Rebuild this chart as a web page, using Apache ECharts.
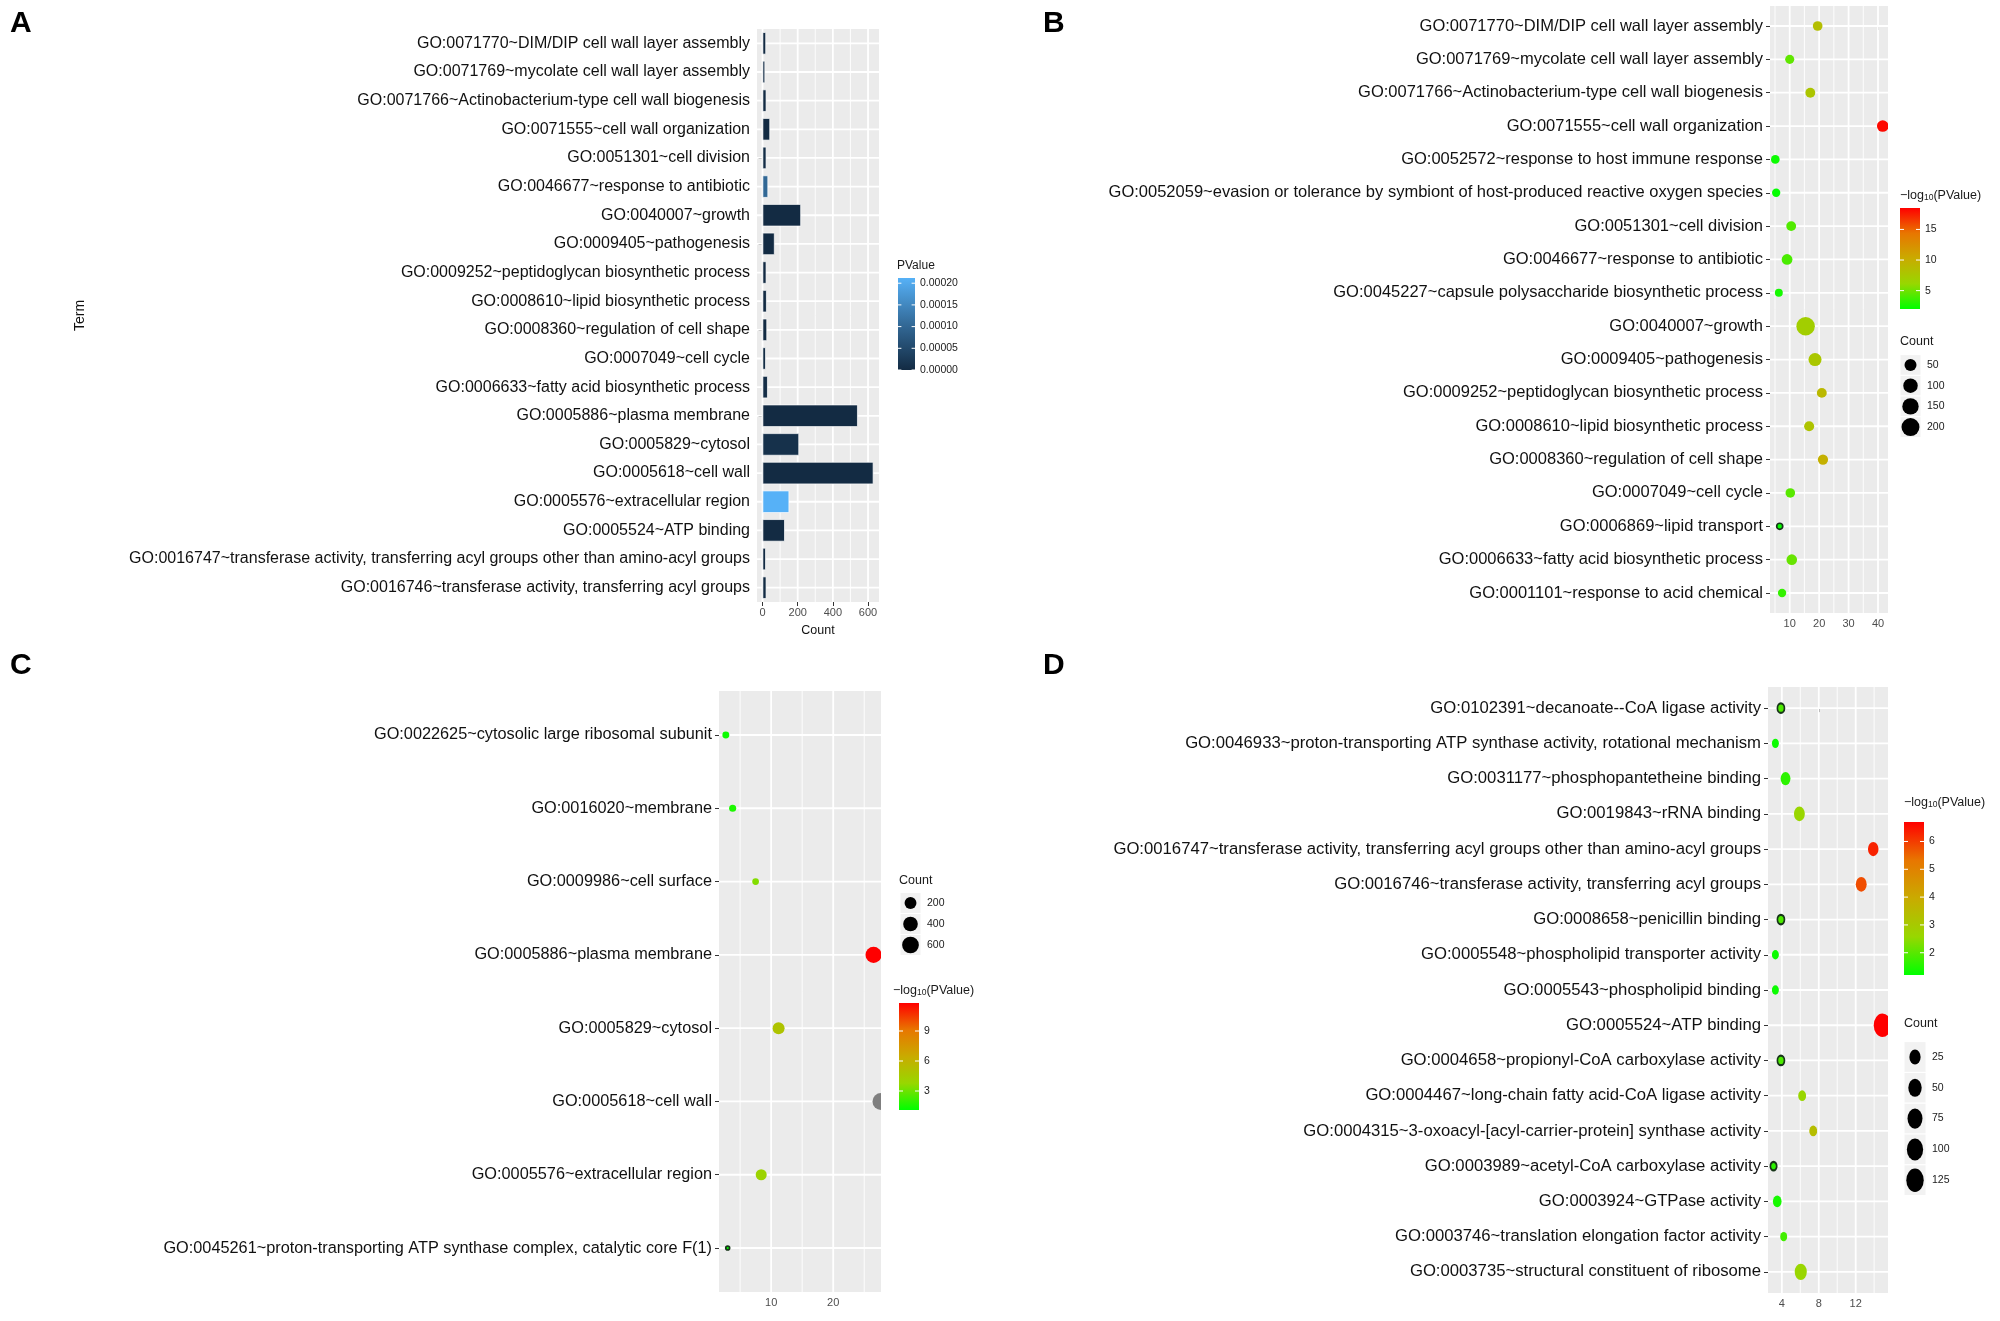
<!DOCTYPE html>
<html><head><meta charset="utf-8">
<script src="https://cdn.jsdelivr.net/npm/echarts@6/dist/echarts.min.js"></script>
<style>html,body{margin:0;padding:0;background:#fff}#c{width:2000px;height:1321px}</style>
</head><body><div id="c"></div>
<script>
// ---------------- DATA ----------------
// Panel A (bar): Count by GO term, fill = PValue
const termsA = [
 "GO:0071770~DIM/DIP cell wall layer assembly",
 "GO:0071769~mycolate cell wall layer assembly",
 "GO:0071766~Actinobacterium-type cell wall biogenesis",
 "GO:0071555~cell wall organization",
 "GO:0051301~cell division",
 "GO:0046677~response to antibiotic",
 "GO:0040007~growth",
 "GO:0009405~pathogenesis",
 "GO:0009252~peptidoglycan biosynthetic process",
 "GO:0008610~lipid biosynthetic process",
 "GO:0008360~regulation of cell shape",
 "GO:0007049~cell cycle",
 "GO:0006633~fatty acid biosynthetic process",
 "GO:0005886~plasma membrane",
 "GO:0005829~cytosol",
 "GO:0005618~cell wall",
 "GO:0005576~extracellular region",
 "GO:0005524~ATP binding",
 "GO:0016747~transferase activity, transferring acyl groups other than amino-acyl groups",
 "GO:0016746~transferase activity, transferring acyl groups"
];
const countA = [20, 15, 22, 43, 22, 32, 219, 69, 22, 24, 26, 19, 30, 542, 208, 631, 152, 127, 19, 22];
const pvalA  = [1.2e-8, 2.0e-6, 3.1e-7, 2.5e-19, 3.4e-6, 1.02e-4, 4.1e-8, 1.6e-8, 6.0e-10, 8.5e-9, 4.4e-10, 2.9e-6, 5.2e-6, 1.1e-12, 1.05e-5, 2.0e-15, 2.12e-4, 2.3e-7, 4.5e-7, 1.6e-6];
const ticksAx = [0, 200, 400, 600];
const minorAx = [100, 300, 500];
const legendTicksA = [0, 0.00005, 0.0001, 0.00015, 0.0002];

// Panel B (dots)
const termsB = [
 "GO:0071770~DIM/DIP cell wall layer assembly",
 "GO:0071769~mycolate cell wall layer assembly",
 "GO:0071766~Actinobacterium-type cell wall biogenesis",
 "GO:0071555~cell wall organization",
 "GO:0052572~response to host immune response",
 "GO:0052059~evasion or tolerance by symbiont of host-produced reactive oxygen species",
 "GO:0051301~cell division",
 "GO:0046677~response to antibiotic",
 "GO:0045227~capsule polysaccharide biosynthetic process",
 "GO:0040007~growth",
 "GO:0009405~pathogenesis",
 "GO:0009252~peptidoglycan biosynthetic process",
 "GO:0008610~lipid biosynthetic process",
 "GO:0008360~regulation of cell shape",
 "GO:0007049~cell cycle",
 "GO:0006869~lipid transport",
 "GO:0006633~fatty acid biosynthetic process",
 "GO:0001101~response to acid chemical"
];
const xB     = [19.5, 10.0, 17.0, 41.6, 5.1, 5.4, 10.5, 9.1, 6.3, 15.4, 18.6, 20.9, 16.6, 21.3, 10.2, 6.6, 10.7, 7.4];
const countB = [20, 15, 22, 43, 12, 10, 22, 32, 8, 219, 69, 22, 24, 26, 19, 7, 30, 10];
const logpB  = [8.5, 4.6, 7.8, 18.2, 2.3, 2.1, 4.2, 4.0, 2.6, 7.0, 7.6, 9.0, 8.0, 9.8, 4.4, 2.2, 4.8, 3.4];
const ticksBx = [10, 20, 30, 40];
const minorBx = [5, 15, 25, 35];
const legendColorTicksB = [5, 10, 15];
const legendSizeB = [50, 100, 150, 200];

// Panel C (dots)
const termsC = [
 "GO:0022625~cytosolic large ribosomal subunit",
 "GO:0016020~membrane",
 "GO:0009986~cell surface",
 "GO:0005886~plasma membrane",
 "GO:0005829~cytosol",
 "GO:0005618~cell wall",
 "GO:0005576~extracellular region",
 "GO:0045261~proton-transporting ATP synthase complex, catalytic core F(1)"
];
const xC     = [2.7, 3.8, 7.5, 26.5, 11.2, 27.7, 8.4, 3.0];
const countC = [18, 20, 15, 542, 208, 631, 152, 8];
const logpC  = [1.3, 1.6, 3.4, 11.8, 5.0, 14.0, 4.0, 1.2];
const ticksCx = [10, 20];
const minorCx = [5, 15, 25];
const legendColorTicksC = [3, 6, 9];
const legendSizeC = [200, 400, 600];

// Panel D (dots)
const termsD = [
 "GO:0102391~decanoate--CoA ligase activity",
 "GO:0046933~proton-transporting ATP synthase activity, rotational mechanism",
 "GO:0031177~phosphopantetheine binding",
 "GO:0019843~rRNA binding",
 "GO:0016747~transferase activity, transferring acyl groups other than amino-acyl groups",
 "GO:0016746~transferase activity, transferring acyl groups",
 "GO:0008658~penicillin binding",
 "GO:0005548~phospholipid transporter activity",
 "GO:0005543~phospholipid binding",
 "GO:0005524~ATP binding",
 "GO:0004658~propionyl-CoA carboxylase activity",
 "GO:0004467~long-chain fatty acid-CoA ligase activity",
 "GO:0004315~3-oxoacyl-[acyl-carrier-protein] synthase activity",
 "GO:0003989~acetyl-CoA carboxylase activity",
 "GO:0003924~GTPase activity",
 "GO:0003746~translation elongation factor activity",
 "GO:0003735~structural constituent of ribosome"
];
const xD     = [3.9, 3.3, 4.4, 5.9, 13.9, 12.6, 3.9, 3.3, 3.3, 14.9, 3.9, 6.2, 7.4, 3.1, 3.5, 4.2, 6.05];
const countD = [8, 5, 14, 22, 19, 22, 8, 5, 5, 127, 8, 6, 6, 6, 8, 5, 34];
const logpD  = [1.9, 1.3, 1.6, 2.6, 6.3, 5.8, 1.9, 1.3, 1.3, 6.7, 1.9, 2.6, 3.4, 1.6, 1.4, 1.8, 2.6];
const ticksDx = [4, 8, 12];
const minorDx = [6, 10, 14];
const legendColorTicksD = [2, 3, 4, 5, 6];
const legendSizeD = [25, 50, 75, 100, 125];

// ---------------- STYLE / SCALES ----------------
const FONT = '"Liberation Sans", Arial, Helvetica, sans-serif';
const PANEL_BG = '#EBEBEB';
const GREEN_RED = ['#00FF00', '#98D700', '#C9AB00', '#E87600', '#FF0000'];
const NAVY_BLUE = ['#132B43', '#336A98', '#56B1F7'];
const colA = {min: 0, max: 0.000212, stops: NAVY_BLUE};
const colB = {min: 2.0, max: 18.5, stops: GREEN_RED};
const colC = {min: 1.1, max: 11.8, stops: GREEN_RED, na: '#7F7F7F'};
const colD = {min: 1.2, max: 6.7, stops: GREEN_RED};
const sizeB = {vMin: 5, vMax: 219, dMin: 6.5, dMax: 18.5};
const sizeC = {vMin: 8, vMax: 631, dMin: 5.5, dMax: 17};
const sizeD = {vMin: 5, vMax: 127, dMin: 7, dMax: 17.5};
const SY_D = 1.35;

function hexToRgb(h){return [parseInt(h.slice(1,3),16),parseInt(h.slice(3,5),16),parseInt(h.slice(5,7),16)];}
function ramp(stops, t){
  t = Math.max(0, Math.min(1, t));
  const n = stops.length - 1;
  const k = Math.min(n - 1, Math.floor(t * n));
  const f = t * n - k;
  const a = hexToRgb(stops[k]), b = hexToRgb(stops[k + 1]);
  return 'rgb(' + a.map((c, j) => Math.round(c + (b[j] - c) * f)).join(',') + ')';
}
function colorFor(v, cp){
  if (cp.na && (v > cp.max || v < cp.min)) return cp.na;
  return ramp(cp.stops, (v - cp.min) / (cp.max - cp.min));
}
function diam(v, sp){
  const f = Math.sqrt(Math.max(0, v - sp.vMin) / (sp.vMax - sp.vMin));
  return sp.dMin + (sp.dMax - sp.dMin) * Math.min(1, f);
}

const grids = [
  {left: 757, top: 29, width: 122, height: 573},
  {left: 1770, top: 6, width: 118, height: 607},
  {left: 719, top: 691, width: 162, height: 601},
  {left: 1768, top: 687, width: 120, height: 606}
];
const xRanges = [[-31.5, 662.5], [3.3, 43.4], [1.6, 27.7], [2.5, 15.5]];

function xAxisCfg(ai, ticks, extra){
  return Object.assign({
    type: 'value', gridIndex: ai, min: xRanges[ai][0], max: xRanges[ai][1],
    axisLine: {show: false}, splitLine: {show: false},
    axisTick: {show: true, customValues: ticks, length: 4, lineStyle: {color: '#333', width: 1}},
    axisLabel: {customValues: ticks, fontSize: 11, fontFamily: FONT, color: '#4D4D4D', margin: 5}
  }, extra || {});
}
function dotYAxis(ai, terms, fs){
  const idx = terms.map((_, i) => i);
  return {
    type: 'value', gridIndex: ai, inverse: true, min: -0.6, max: terms.length - 0.4,
    axisLine: {show: false}, splitLine: {show: false},
    axisTick: {show: true, customValues: idx, length: 4, lineStyle: {color: '#333', width: 1}},
    axisLabel: {customValues: idx, formatter: v => terms[Math.round(v)] || '', fontSize: fs, fontFamily: FONT, color: '#111', margin: 7}
  };
}
function gridLineSeries(ai, major, minor, nRows){
  const items = [];
  minor.forEach(v => items.push({k: 'n', d: [v, 0]}));
  major.forEach(v => items.push({k: 'm', d: [v, 0]}));
  for (let i = 0; i < nRows; i++) items.push({k: 'h', d: [xRanges[ai][0], i]});
  return {
    type: 'custom', xAxisIndex: ai, yAxisIndex: ai, z: 1, silent: true,
    data: items.map(o => o.d),
    renderItem(params, api){
      const it = items[params.dataIndex], cs = params.coordSys;
      const p = api.coord([api.value(0), api.value(1)]);
      if (it.k === 'h') return {type: 'line', shape: {x1: cs.x, y1: p[1], x2: cs.x + cs.width, y2: p[1]}, style: {stroke: '#fff', lineWidth: 1.8}};
      return {type: 'line', shape: {x1: p[0], y1: cs.y, x2: p[0], y2: cs.y + cs.height}, style: {stroke: '#fff', lineWidth: it.k === 'm' ? 1.8 : 0.9}};
    }
  };
}
function dotSeries(ai, xs, counts, logp, sp, cp, rings, sy){
  return {
    type: 'custom', xAxisIndex: ai, yAxisIndex: ai, z: 3, clip: true,
    data: xs.map((x, i) => [x, i]),
    renderItem(params, api){
      const i = params.dataIndex;
      const p = api.coord([api.value(0), api.value(1)]);
      const r = diam(counts[i], sp) / 2;
      const ring = rings.indexOf(i) >= 0;
      return {type: 'circle', x: p[0], y: p[1], scaleY: sy,
        shape: {cx: 0, cy: 0, r: ring ? r - 0.8 : r},
        style: {fill: colorFor(logp[i], cp), stroke: ring ? '#173519' : null, lineWidth: ring ? 1.7 : 0}};
    }
  };
}

// ---------------- LEGENDS (graphic) ----------------
function txt(x, y, text, size, extra){
  return Object.assign({type: 'text', x: x, y: y, z: 10, style: {text: text, font: size + 'px ' + FONT, fill: '#1a1a1a', textVerticalAlign: 'middle', verticalAlign: 'middle'}}, extra || {});
}
function letter(x, y, t){
  return {type: 'text', x: x, y: y, z: 10, style: {text: t, font: 'bold 30px ' + FONT, fill: '#000', textVerticalAlign: 'middle', verticalAlign: 'middle'}};
}
function logTitle(x, y){
  return {type: 'text', x: x, y: y, z: 10, style: {
    text: '{a|\u2212log}{s|10}{a|(PValue)}',
    verticalAlign: 'middle', textVerticalAlign: 'middle',
    rich: {a: {font: '12.5px ' + FONT, fill: '#1a1a1a', verticalAlign: 'bottom', lineHeight: 16},
           s: {font: '8.5px ' + FONT, fill: '#1a1a1a', verticalAlign: 'bottom', lineHeight: 12}}
  }};
}
function colorBar(o){
  const els = [];
  const h = o.bottom - o.top;
  const rev = o.cp.stops.slice().reverse();
  els.push({type: 'rect', z: 10, shape: {x: o.x, y: o.top, width: o.w, height: h},
    style: {fill: {type: 'linear', x: 0, y: 0, x2: 0, y2: 1, colorStops: rev.map((c, k) => ({offset: k / (rev.length - 1), color: c}))}}});
  o.ticks.forEach(v => {
    const y = o.bottom - (v - o.cp.min) / (o.cp.max - o.cp.min) * h;
    els.push({type: 'line', z: 11, shape: {x1: o.x, y1: y, x2: o.x + o.w * 0.2, y2: y}, style: {stroke: '#fff', lineWidth: 1}});
    els.push({type: 'line', z: 11, shape: {x1: o.x + o.w * 0.8, y1: y, x2: o.x + o.w, y2: y}, style: {stroke: '#fff', lineWidth: 1}});
    els.push(txt(o.x + o.w + 5, y, o.fmt(v), 10.5));
  });
  return els;
}
function sizeLegend(o){
  const els = [];
  o.values.forEach((v, k) => {
    const cy = o.y0 + k * o.step;
    els.push({type: 'rect', z: 10, shape: {x: o.x, y: cy - o.step / 2, width: o.kw, height: o.step}, style: {fill: '#F2F2F2', stroke: '#fff', lineWidth: 1}});
    els.push({type: 'circle', z: 11, x: o.x + o.kw / 2, y: cy, scaleY: o.sy || 1, shape: {cx: 0, cy: 0, r: diam(v, o.sp) / 2}, style: {fill: '#000'}});
    els.push(txt(o.x + o.kw + 6, cy, String(v), 10.5));
  });
  return els;
}

const graphics = [].concat(
  [letter(10, 24, 'A'), letter(1043, 24, 'B'), letter(10, 666, 'C'), letter(1043, 666, 'D')],
  // A legend
  [txt(897, 266, 'PValue', 12)],
  colorBar({x: 898, top: 278, bottom: 370, w: 17, cp: colA, ticks: legendTicksA, fmt: v => v.toFixed(5)}),
  // B legends
  [logTitle(1900, 194)],
  colorBar({x: 1900, top: 208, bottom: 309, w: 20, cp: colB, ticks: legendColorTicksB, fmt: v => String(v)}),
  [txt(1900, 342, 'Count', 12.5)],
  sizeLegend({x: 1900, y0: 365, step: 20.7, kw: 21, values: legendSizeB, sp: sizeB}),
  // C legends
  [txt(899, 881, 'Count', 12.5)],
  sizeLegend({x: 900, y0: 903, step: 21, kw: 21, values: legendSizeC, sp: sizeC}),
  [logTitle(893, 989)],
  colorBar({x: 899, top: 1003, bottom: 1110, w: 20, cp: colC, ticks: legendColorTicksC, fmt: v => String(v)}),
  // D legends
  [logTitle(1904, 801)],
  colorBar({x: 1904, top: 822, bottom: 975, w: 20, cp: colD, ticks: legendColorTicksD, fmt: v => String(v)}),
  [txt(1904, 1024, 'Count', 12.5)],
  sizeLegend({x: 1904, y0: 1057, step: 30.8, kw: 22, values: legendSizeD, sp: sizeD, sy: SY_D})
);

const option = {
  animation: false,
  backgroundColor: '#fff',
  grid: grids.map(g => Object.assign({show: true, backgroundColor: PANEL_BG, borderWidth: 0, containLabel: false, outerBoundsMode: 'none'}, g)),
  xAxis: [
    xAxisCfg(0, ticksAx, {name: 'Count', nameLocation: 'middle', nameGap: 22, nameTextStyle: {fontSize: 12.5, fontFamily: FONT, color: '#111'}}),
    xAxisCfg(1, ticksBx),
    xAxisCfg(2, ticksCx),
    xAxisCfg(3, ticksDx)
  ],
  yAxis: [
    {type: 'category', gridIndex: 0, inverse: true, data: termsA,
     name: 'Term', nameLocation: 'middle', nameRotate: 90, nameGap: 670,
     nameTextStyle: {fontSize: 14, fontFamily: FONT, color: '#111'},
     axisLine: {show: false}, splitLine: {show: false},
     axisTick: {show: true, alignWithLabel: true, interval: 0, length: 4, lineStyle: {color: '#333', width: 1}},
     axisLabel: {interval: 0, fontSize: 16, fontFamily: FONT, color: '#111', margin: 7}},
    dotYAxis(1, termsB, 16.5),
    dotYAxis(2, termsC, 16.3),
    dotYAxis(3, termsD, 16.7)
  ],
  series: [
    gridLineSeries(0, ticksAx, minorAx, termsA.length),
    {type: 'bar', xAxisIndex: 0, yAxisIndex: 0, z: 3, barCategoryGap: '22%',
     data: countA.map((v, i) => ({value: v, itemStyle: {color: colorFor(pvalA[i], colA)}})),
     itemStyle: {borderColor: '#ffffff', borderWidth: 0.7}},
    gridLineSeries(1, ticksBx, minorBx, termsB.length),
    dotSeries(1, xB, countB, logpB, sizeB, colB, [15], 1),
    gridLineSeries(2, ticksCx, minorCx, termsC.length),
    dotSeries(2, xC, countC, logpC, sizeC, colC, [7], 1),
    gridLineSeries(3, ticksDx, minorDx, termsD.length),
    dotSeries(3, xD, countD, logpD, sizeD, colD, [0, 6, 10, 13], SY_D)
  ],
  graphic: {elements: graphics}
};

const chart = echarts.init(document.getElementById('c'), null, {renderer: 'canvas', width: 2000, height: 1321});
chart.setOption(option);
</script></body></html>
